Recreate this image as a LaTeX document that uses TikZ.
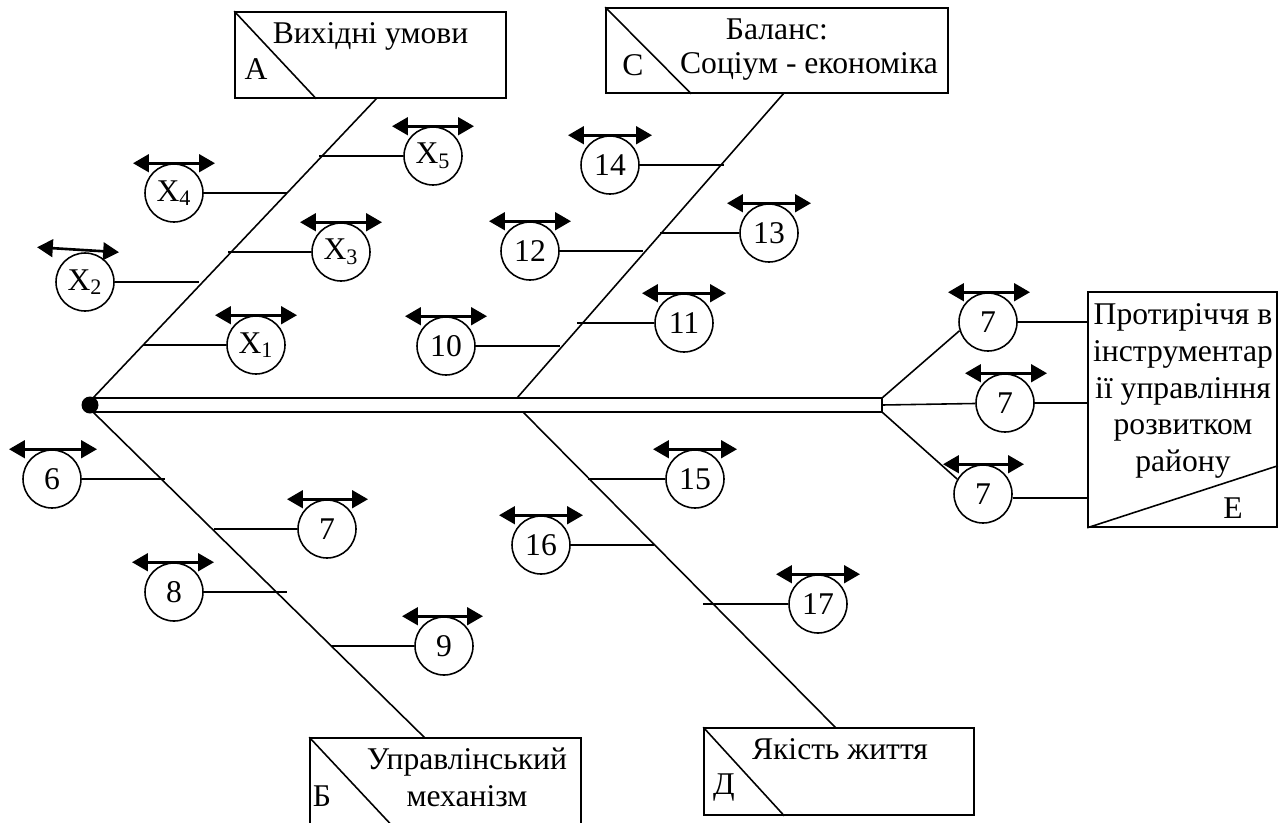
\documentclass[tikz,border=0pt]{standalone}
\usepackage{fontspec}
\setmainfont{Liberation Serif}
\usepackage{tikz}
\usetikzlibrary{arrows.meta,calc}

\tikzset{
  fac/.style={draw, circle, minimum size=1.16cm, inner sep=0pt},
  frame/.style={draw, inner sep=0pt},
  hub/.style={circle, fill=black, minimum size=0.34cm, inner sep=0pt},
  twoway/.style={{Triangle[length=9pt,width=10pt]}-{Triangle[length=9pt,width=10pt]}, line width=1.5pt},
}

\begin{document}
\begin{tikzpicture}[x=0.02cm, y=-0.02cm, line width=0.9pt,
  every node/.style={font=\fontsize{18}{21}\selectfont}]
\useasboundingbox (0,0) rectangle (1283,822);

% head boxes
\node[frame, minimum width=5.42cm, minimum height=1.72cm] (boxA) at (370.5,55) {};
\node[frame, minimum width=6.84cm, minimum height=1.70cm] (boxC) at (777,50.5) {};
\node[frame, minimum width=5.42cm, minimum height=1.72cm] (boxB) at (445.5,781) {};
\node[frame, minimum width=5.40cm, minimum height=1.74cm] (boxD) at (839,771.5) {};
\node[frame, minimum width=3.78cm, minimum height=4.70cm] (boxE) at (1182.5,409.5) {};

\draw (boxA.north west) -- ($(boxA.south west)+(82,0)$);
\draw (boxC.north west) -- ($(boxC.south west)+(86,0)$);
\draw (boxB.north west) -- ($(boxB.south west)+(82,0)$);
\draw (boxD.north west) -- ($(boxD.south west)+(81,0)$);
\draw (boxE.south west) -- ($(boxE.south east)+(0,-62)$);

\node (tA) at (370.5,36) {Вихідні умови};
\node (lA) at (256,69) {А};
\node (tC1) at (777,29) {Баланс:};
\node (tC2) at (809,66) {Соціум - економіка};
\node (lC) at (633,65) {С};
\node[align=center] (tB) at (467,777) {Управлінський\\механізм};
\node (lB) at (322,796) {Б};
\node (tD) at (840,749) {Якість життя};
\node (lD) at (724,787) {Д};
\node[align=center] (tE) at (1183,391) {Протиріччя в\\інструментар\\ії управління\\розвитком\\району};
\node (lE) at (1233,508) {Е};

% spine
\draw (90,398) rectangle (882,412);
\node[hub] (dot) at (90,405) {};
\coordinate (ft) at (882,398);
\coordinate (fork) at (882,405);
\coordinate (fb) at (882,412);

% bones
\coordinate (sA0) at (93,398);  \coordinate (sA1) at (377,98);
\coordinate (sC0) at (517,398); \coordinate (sC1) at (784,93);
\coordinate (sB0) at (93,412);  \coordinate (sB1) at (425,738);
\coordinate (sD0) at (523,412); \coordinate (sD1) at (836,728);
\draw (sA0) -- (sA1);
\draw (sC0) -- (sC1);
\draw (sB0) -- (sB1);
\draw (sD0) -- (sD1);

% factors
\node[fac] (x5) at (433,156) {X\textsubscript{5}};
\node[fac] (x4) at (174,193) {X\textsubscript{4}};
\node[fac] (x3) at (341,252) {X\textsubscript{3}};
\node[fac] (x2) at (85,282) {X\textsubscript{2}};
\node[fac] (x1) at (256,345) {X\textsubscript{1}};
\node[fac] (n10) at (446,346) {10};
\node[fac] (n14) at (610,165) {14};
\node[fac] (n13) at (769,233) {13};
\node[fac] (n12) at (530,251) {12};
\node[fac] (n11) at (684,323) {11};
\node[fac] (n15) at (695,479) {15};
\node[fac] (n16) at (541,545) {16};
\node[fac] (n17) at (818,604) {17};
\node[fac] (n6) at (52,479) {6};
\node[fac] (n7) at (327,529) {7};
\node[fac] (n8) at (174,592) {8};
\node[fac] (n9) at (444,646) {9};
\node[fac] (e1) at (988,322) {7};
\node[fac] (e2) at (1005,403) {7};
\node[fac] (e3) at (983,494) {7};

% ends on the bones
\coordinate (kx5) at (319,156);
\coordinate (kx4) at (287,193);
\coordinate (kx3) at (228,252);
\coordinate (kx2) at (199,282);
\coordinate (kx1) at (143,345);
\coordinate (k10) at (560,346);
\coordinate (k14) at (724,165);
\coordinate (k13) at (660,233);
\coordinate (k12) at (643,251);
\coordinate (k11) at (577,323);
\coordinate (k15) at (588,479);
\coordinate (k16) at (654,545);
\coordinate (k17) at (703,604);
\coordinate (k6) at (165,479);
\coordinate (k7) at (214,529);
\coordinate (k8) at (287,592);
\coordinate (k9) at (331,646);

\draw (x5) -- (kx5);
\draw (x4) -- (kx4);
\draw (x3) -- (kx3);
\draw (x2) -- (kx2);
\draw (x1) -- (kx1);
\draw (n10) -- (k10);
\draw (n14) -- (k14);
\draw (n13) -- (k13);
\draw (n12) -- (k12);
\draw (n11) -- (k11);
\draw (n15) -- (k15);
\draw (n16) -- (k16);
\draw (n17) -- (k17);
\draw (n6) -- (k6);
\draw (n7) -- (k7);
\draw (n8) -- (k8);
\draw (n9) -- (k9);

% the fork at the head
\draw (ft) -- (e1.197);
\draw (fork) -- (e2);
\draw (fb) -- (e3.150);
\draw (e1.east) -- (e1.east -| boxE.west);
\draw (e2.east) -- (e2.east -| boxE.west);
\draw (e3.-8) -- (e3.-8 -| boxE.west);

% two-way arrows
\draw[twoway] ([xshift=-0.82cm]x5.north) -- ([xshift=0.82cm]x5.north);
\draw[twoway] ([xshift=-0.82cm]x4.north) -- ([xshift=0.82cm]x4.north);
\draw[twoway] ([xshift=-0.82cm]x3.north) -- ([xshift=0.82cm]x3.north);
\draw[twoway] ([xshift=-0.96cm,yshift=0.1cm]x2.north) -- ([xshift=0.68cm]x2.north);
\draw[twoway] ([xshift=-0.82cm]x1.north) -- ([xshift=0.82cm]x1.north);
\draw[twoway] ([xshift=-0.82cm]n10.north) -- ([xshift=0.82cm]n10.north);
\draw[twoway] ([xshift=-0.84cm]n14.north) -- ([xshift=0.84cm]n14.north);
\draw[twoway] ([xshift=-0.84cm]n13.north) -- ([xshift=0.84cm]n13.north);
\draw[twoway] ([xshift=-0.82cm]n12.north) -- ([xshift=0.82cm]n12.north);
\draw[twoway] ([xshift=-0.84cm]n11.north) -- ([xshift=0.84cm]n11.north);
\draw[twoway] ([xshift=-0.84cm]n15.north) -- ([xshift=0.84cm]n15.north);
\draw[twoway] ([xshift=-0.84cm]n16.north) -- ([xshift=0.84cm]n16.north);
\draw[twoway] ([xshift=-0.84cm]n17.north) -- ([xshift=0.84cm]n17.north);
\draw[twoway] ([xshift=-0.86cm]n6.north) -- ([xshift=0.90cm]n6.north);
\draw[twoway] ([xshift=-0.80cm]n7.north) -- ([xshift=0.82cm]n7.north);
\draw[twoway] ([xshift=-0.84cm]n8.north) -- ([xshift=0.80cm]n8.north);
\draw[twoway] ([xshift=-0.84cm]n9.north) -- ([xshift=0.78cm]n9.north);
\draw[twoway] ([xshift=-0.80cm]e1.north) -- ([xshift=0.84cm]e1.north);
\draw[twoway] ([xshift=-0.80cm]e2.north) -- ([xshift=0.84cm]e2.north);
\draw[twoway] ([xshift=-0.80cm]e3.north) -- ([xshift=0.82cm]e3.north);

\end{tikzpicture}
\end{document}
